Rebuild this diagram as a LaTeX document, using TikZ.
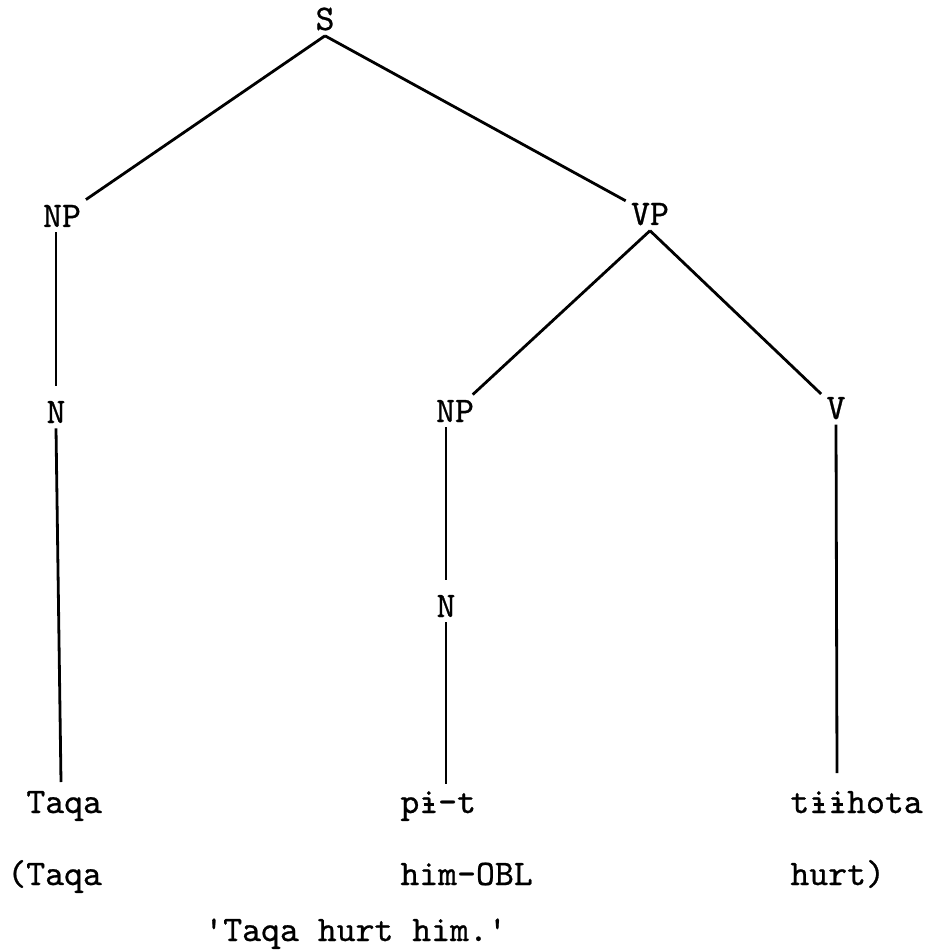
\documentclass[tikz,border=0pt]{standalone}
\usepackage{fontspec}
\setmonofont{lmmono10-regular}[Extension=.otf, FakeBold=0.7]
\newcommand{\bari}{\rlap{\hspace{0.12em}\rule[0.2em]{0.29em}{0.065em}}i}
\begin{document}
\begin{tikzpicture}[x=0.5pt,y=-0.5pt,
  lab/.style={font=\ttfamily\fontsize{18}{21}\selectfont, inner sep=2.5pt, anchor=base},
  word/.style={font=\ttfamily\fontsize{18}{21}\selectfont, inner sep=0pt, anchor=base west},
  edge/.style={line width=1.4pt}]
\useasboundingbox (0,0) rectangle (939,952);
% category labels
\node[lab] (S)   at (325,30)  {S};
\node[lab] (NPl) at (62,227)  {NP};
\node[lab] (VP)  at (650,225) {VP};
\node[lab] (Nl)  at (56,423)  {N};
\node[lab] (NPm) at (455,422) {NP};
\node[lab] (V)   at (836,419) {V};
\node[lab] (Nm)  at (446,617) {N};
% words and gloss
\node[word] (w1) at (26,813)  {Taqa};
\node[word] (w2) at (400,813) {p\bari-t};
\node[word] (w3) at (790,813) {t\bari\bari hota};
\node[word] (g1) at (7,885)   {(Taqa};
\node[word] (g2) at (400,885) {him-OBL};
\node[word] (g3) at (790,885) {hurt)};
\node[word] (tr) at (204,941) {'Taqa hurt him.'};
% free ends of the lines above the words
\coordinate (e1) at (61,782);
\coordinate (e2) at (446,784);
\coordinate (e3) at (837,773);
% connectors
\draw[edge] (S.south) -- (NPl);
\draw[edge] (S.south) -- (VP);
\draw[edge, shorten >=5pt] (NPl.south -| Nl.north) -- (Nl.north);
\draw[edge] (Nl.south) -- (e1);
\draw[edge] (VP.south) -- (NPm);
\draw[edge] (VP.south) -- (V);
\draw[edge, shorten >=5pt] (NPm.south -| Nm.north) -- (Nm.north);
\draw[edge] (Nm.south) -- (e2);
\draw[edge] (V.south) -- (e3);
\end{tikzpicture}
\end{document}
